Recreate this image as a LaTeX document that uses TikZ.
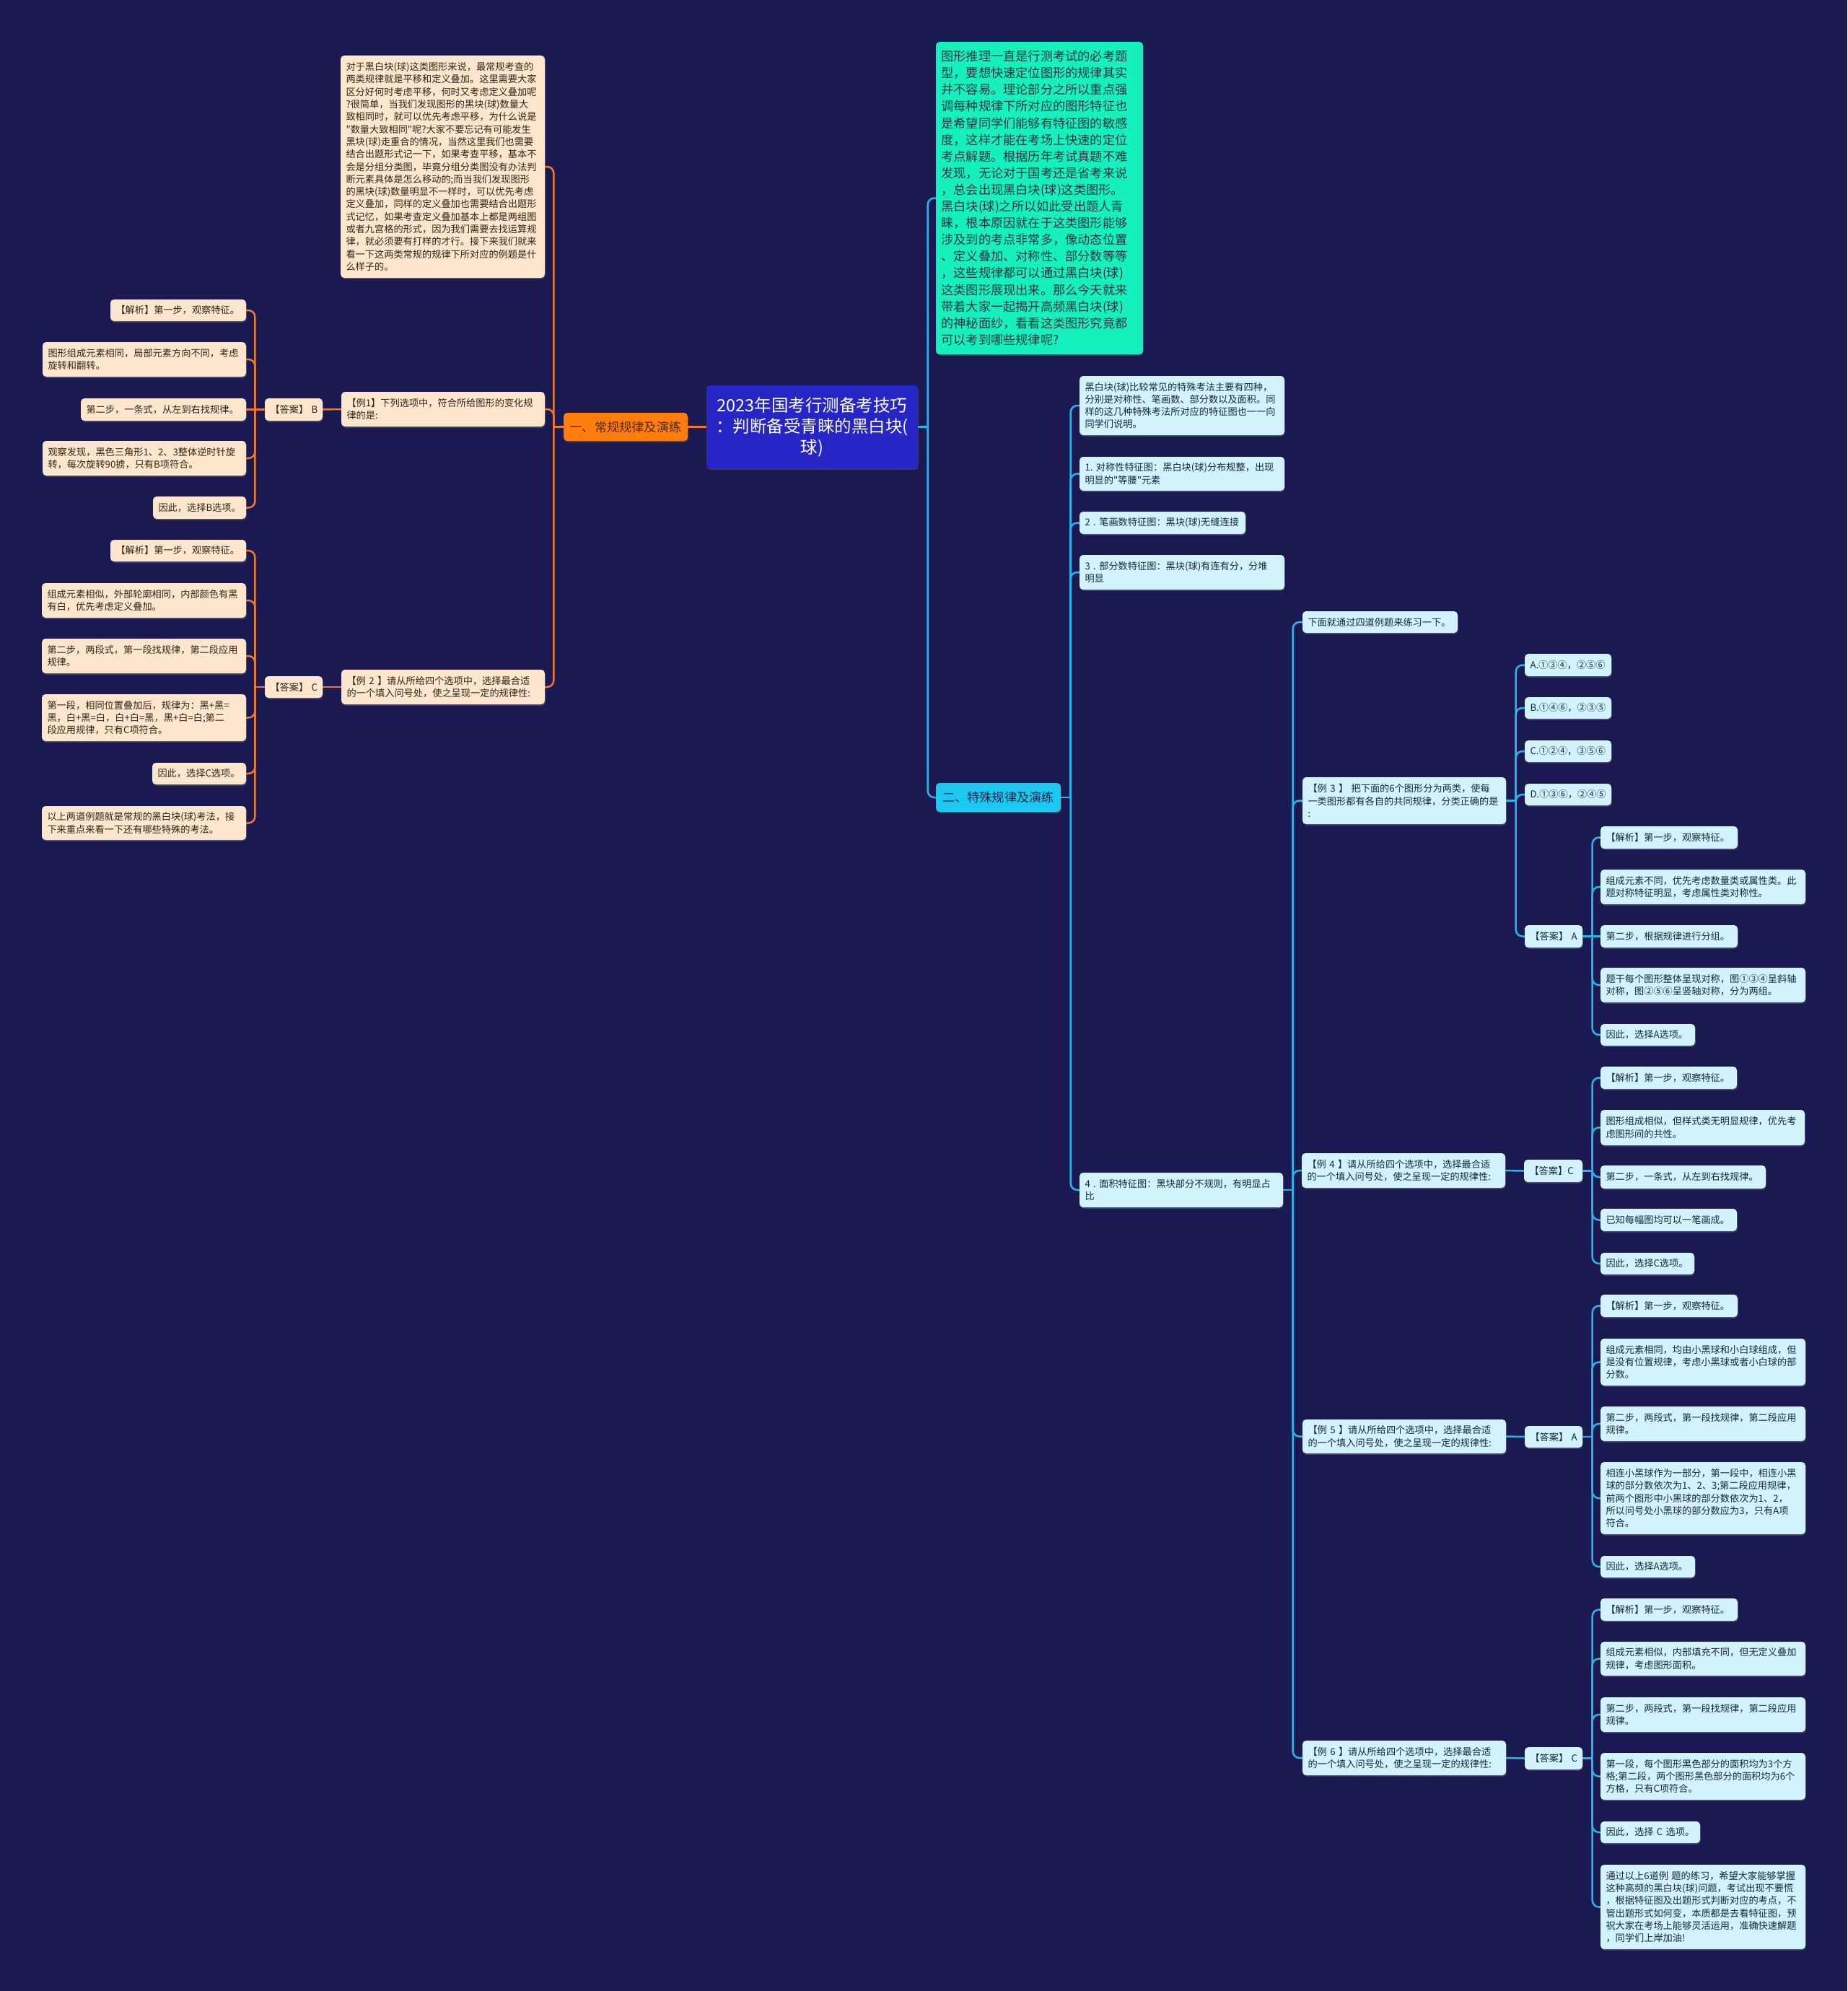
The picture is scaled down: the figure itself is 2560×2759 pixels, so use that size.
\documentclass[tikz,border=0pt]{standalone}
\usepackage{fontspec}
\setmainfont{Noto Sans CJK SC}[Ligatures=TeXOff]
\usetikzlibrary{shadows,calc}
\hfuzz=200pt \hbadness=10000 \vbadness=10000
\definecolor{bgc}{RGB}{27,25,82}
\definecolor{rootfill}{RGB}{38,38,198}
\definecolor{obr}{RGB}{255,125,12}
\definecolor{obrtext}{RGB}{85,40,8}
\definecolor{oleaffill}{RGB}{253,230,205}
\definecolor{oleaftext}{RGB}{50,36,26}
\definecolor{olinec}{RGB}{236,122,48}
\definecolor{greenfill}{RGB}{22,240,190}
\definecolor{greentext}{RGB}{26,54,66}
\definecolor{cbr}{RGB}{26,200,240}
\definecolor{cbrtext}{RGB}{16,40,80}
\definecolor{cleaffill}{RGB}{210,243,252}
\definecolor{cleaftext}{RGB}{22,40,58}
\definecolor{clinec}{RGB}{40,182,232}
\pgfdeclarelayer{bgl}\pgfdeclarelayer{edges}\pgfsetlayers{bgl,edges,main}
\tikzset{
  nd/.style={rounded corners=5pt, inner xsep=7.5pt, inner ysep=0pt, align=left,
    font=\fontsize{13.2}{17.3}\selectfont,
    drop shadow={opacity=0.35, shadow xshift=0.8pt, shadow yshift=-1.8pt}},
  oleaf/.style={nd, fill=oleaffill, text=oleaftext},
  cleaf/.style={nd, fill=cleaffill, text=cleaftext},
  rootnd/.style={nd, fill=rootfill, text=white, align=center, font=\fontsize{23.5}{29}\selectfont},
  obranch/.style={nd, fill=obr, text=obrtext, align=center, font=\fontsize{17.2}{21}\selectfont},
  cbranch/.style={nd, fill=cbr, text=cbrtext, align=center, font=\fontsize{17.2}{21}\selectfont},
  greennd/.style={nd, fill=greenfill, text=greentext, font=\fontsize{17.2}{23.1}\selectfont},
  oline/.style={draw=olinec, line width=2.5pt},
  cline/.style={draw=clinec, line width=2.5pt}
}
\newcommand\mkn[7]{%
  \pgfmathsetmacro\mkntw{#5-#3-15}%
  \pgfmathsetmacro\mknh{#6-#4}%
  \pgfmathsetmacro\mkncx{(#3+#5)/2}%
  \pgfmathsetmacro\mkncy{-(#4+#6)/2}%
  \node[#2, text width=\mkntw pt, minimum height=\mknh pt] (#1) at (\mkncx pt,\mkncy pt) {#7};%
}
\newcommand\conR[3]{%
  \draw[#1] (#2.east) -- ++(13.5pt,0) coordinate (#2s);
  \foreach \cc in {#3}{\draw[#1, rounded corners=9pt] (#2s) |- (\cc.west);}%
}
\newcommand\conL[3]{%
  \draw[#1] (#2.west) -- ++(-13.5pt,0) coordinate (#2s);
  \foreach \cc in {#3}{\draw[#1, rounded corners=9pt] (#2s) |- (\cc.east);}%
}
\begin{document}
\begin{tikzpicture}
\useasboundingbox (0,0) rectangle (2560pt,-2759pt);
\begin{pgfonlayer}{bgl}
\fill[bgc] (0,0) rectangle (2560pt,-2759pt);
\end{pgfonlayer}

% root and main branches
\mkn{root}{rootnd}{979}{534}{1272}{649}{2023年国考行测备考技巧\\：判断备受青睐的黑白块(\\球)}
\mkn{br1}{obranch}{781}{572}{953}{611}{一、常规规律及演练}
\mkn{br2}{cbranch}{1297}{1085}{1470}{1125}{二、特殊规律及演练}

% left side
\mkn{t0}{oleaf}{472}{77}{755}{385}{对于黑白块(球)这类图形来说，最常规考查的\\两类规律就是平移和定义叠加。这里需要大家\\区分好何时考虑平移，何时又考虑定义叠加呢\\?很简单，当我们发现图形的黑块(球)数量大\\致相同时，就可以优先考虑平移，为什么说是\\"数量大致相同"呢?大家不要忘记有可能发生\\黑块(球)走重合的情况，当然这里我们也需要\\结合出题形式记一下，如果考查平移，基本不\\会是分组分类图，毕竟分组分类图没有办法判\\断元素具体是怎么移动的;而当我们发现图形\\的黑块(球)数量明显不一样时，可以优先考虑\\定义叠加，同样的定义叠加也需要结合出题形\\式记忆，如果考查定义叠加基本上都是两组图\\或者九宫格的形式，因为我们需要去找运算规\\律，就必须要有打样的才行。接下来我们就来\\看一下这两类常规的规律下所对应的例题是什\\么样子的。}
\mkn{ex1}{oleaf}{473}{543}{755}{591}{【例1】下列选项中，符合所给图形的变化规\\律的是:}
\mkn{ansB}{oleaf}{367}{552}{447}{583}{【答案】~B}
\mkn{a1}{oleaf}{153}{415}{341}{445}{【解析】第一步，观察特征。}
\mkn{a2}{oleaf}{59}{474}{341}{522}{图形组成元素相同，局部元素方向不同，考虑\\旋转和翻转。}
\mkn{a3}{oleaf}{112}{552}{341}{583}{第二步，一条式，从左到右找规律。}
\mkn{a4}{oleaf}{59}{611}{341}{659}{观察发现，黑色三角形1、2、3整体逆时针旋\\转，每次旋转90掳，只有B项符合。}
\mkn{a5}{oleaf}{212}{688}{341}{719}{因此，选择B选项。}

\mkn{ex2}{oleaf}{473}{928}{755}{976}{【例~2~】请从所给四个选项中，选择最合适\\的一个填入问号处，使之呈现一定的规律性:}
\mkn{ansC}{oleaf}{367}{937}{447}{967}{【答案】~C}
\mkn{b1}{oleaf}{153}{748}{341}{778}{【解析】第一步，观察特征。}
\mkn{b2}{oleaf}{58}{808}{341}{856}{组成元素相似，外部轮廓相同，内部颜色有黑\\有白，优先考虑定义叠加。}
\mkn{b3}{oleaf}{58}{885}{341}{933}{第二步，两段式，第一段找规律，第二段应用\\规律。}
\mkn{b4}{oleaf}{58}{962}{341}{1027}{第一段，相同位置叠加后，规律为：黑+黑=\\黑，白+黑=白，白+白=黑，黑+白=白;第二\\段应用规律，只有C项符合。}
\mkn{b5}{oleaf}{211}{1057}{341}{1087}{因此，选择C选项。}
\mkn{b6}{oleaf}{58}{1117}{341}{1164}{以上两道例题就是常规的黑白块(球)考法，接\\下来重点来看一下还有哪些特殊的考法。}

% right side
\mkn{green}{greennd}{1297}{58}{1584}{491}{图形推理一直是行测考试的必考题\\型，要想快速定位图形的规律其实\\并不容易。理论部分之所以重点强\\调每种规律下所对应的图形特征也\\是希望同学们能够有特征图的敏感\\度，这样才能在考场上快速的定位\\考点解题。根据历年考试真题不难\\发现，无论对于国考还是省考来说\\，总会出现黑白块(球)这类图形。\\黑白块(球)之所以如此受出题人青\\睐，根本原因就在于这类图形能够\\涉及到的考点非常多，像动态位置\\、定义叠加、对称性、部分数等等\\，这些规律都可以通过黑白块(球)\\这类图形展现出来。那么今天就来\\带着大家一起揭开高频黑白块(球)\\的神秘面纱，看看这类图形究竟都\\可以考到哪些规律呢?}

\mkn{c1}{cleaf}{1496}{521}{1780}{603}{黑白块(球)比较常见的特殊考法主要有四种，\\分别是对称性、笔画数、部分数以及面积。同\\样的这几种特殊考法所对应的特征图也一一向\\同学们说明。}
\mkn{c2}{cleaf}{1496}{633}{1780}{680}{1.~对称性特征图：黑白块(球)分布规整，出现\\明显的"等腰"元素}
\mkn{c3}{cleaf}{1496}{709}{1726}{740}{2~.~笔画数特征图：黑块(球)无缝连接}
\mkn{c4}{cleaf}{1496}{769}{1780}{817}{3~.~部分数特征图：黑块(球)有连有分，分堆\\明显}
\mkn{c5}{cleaf}{1496}{1625}{1778}{1673}{4~.~面积特征图：黑块部分不规则，有明显占\\比}

\mkn{d0}{cleaf}{1805}{847}{2020}{877}{下面就通过四道例题来练习一下。}

\mkn{ex3}{cleaf}{1805}{1077}{2087}{1142}{【例~3~】~把下面的6个图形分为两类，使每\\一类图形都有各自的共同规律，分类正确的是\\:}
\mkn{oA}{cleaf}{2113}{906}{2233}{937}{A.①③④，②⑤⑥}
\mkn{oB}{cleaf}{2113}{966}{2233}{996}{B.①④⑥，②③⑤}
\mkn{oC}{cleaf}{2113}{1026}{2233}{1056}{C.①②④，③⑤⑥}
\mkn{oD}{cleaf}{2113}{1086}{2233}{1116}{D.①③⑥，②④⑤}
\mkn{ans3}{cleaf}{2113}{1282}{2193}{1313}{【答案】~A}
\mkn{e1}{cleaf}{2218}{1145}{2408}{1176}{【解析】第一步，观察特征。}
\mkn{e2}{cleaf}{2218}{1205}{2502}{1253}{组成元素不同，优先考虑数量类或属性类。此\\题对称特征明显，考虑属性类对称性。}
\mkn{e3}{cleaf}{2218}{1282}{2408}{1313}{第二步，根据规律进行分组。}
\mkn{e4}{cleaf}{2218}{1341}{2502}{1389}{题干每个图形整体呈现对称，图①③④呈斜轴\\对称，图②⑤⑥呈竖轴对称，分为两组。}
\mkn{e5}{cleaf}{2218}{1419}{2349}{1449}{因此，选择A选项。}

\mkn{ex4}{cleaf}{1804}{1598}{2086}{1646}{【例~4~】请从所给四个选项中，选择最合适\\的一个填入问号处，使之呈现一定的规律性:}
\mkn{ans4}{cleaf}{2112}{1607}{2193}{1638}{【答案】C}
\mkn{f1}{cleaf}{2218}{1478}{2407}{1509}{【解析】第一步，观察特征。}
\mkn{f2}{cleaf}{2218}{1538}{2501}{1587}{图形组成相似，但样式类无明显规律，优先考\\虑图形间的共性。}
\mkn{f3}{cleaf}{2218}{1615}{2447}{1647}{第二步，一条式，从左到右找规律。}
\mkn{f4}{cleaf}{2218}{1675}{2407}{1706}{已知每幅图均可以一笔画成。}
\mkn{f5}{cleaf}{2218}{1736}{2348}{1766}{因此，选择C选项。}

\mkn{ex5}{cleaf}{1805}{1967}{2087}{2014}{【例~5~】请从所给四个选项中，选择最合适\\的一个填入问号处，使之呈现一定的规律性:}
\mkn{ans5}{cleaf}{2113}{1976}{2193}{2006}{【答案】~A}
\mkn{g1}{cleaf}{2218}{1794}{2408}{1825}{【解析】第一步，观察特征。}
\mkn{g2}{cleaf}{2218}{1855}{2502}{1920}{组成元素相同，均由小黑球和小白球组成，但\\是没有位置规律，考虑小黑球或者小白球的部\\分数。}
\mkn{g3}{cleaf}{2218}{1949}{2502}{1997}{第二步，两段式，第一段找规律，第二段应用\\规律。}
\mkn{g4}{cleaf}{2218}{2026}{2502}{2126}{相连小黑球作为一部分，第一段中，相连小黑\\球的部分数依次为1、2、3;第二段应用规律，\\前两个图形中小黑球的部分数依次为1、2，\\所以问号处小黑球的部分数应为3，只有A项\\符合。}
\mkn{g5}{cleaf}{2218}{2156}{2349}{2186}{因此，选择A选项。}

\mkn{ex6}{cleaf}{1805}{2412}{2087}{2460}{【例~6~】请从所给四个选项中，选择最合适\\的一个填入问号处，使之呈现一定的规律性:}
\mkn{ans6}{cleaf}{2113}{2421}{2193}{2452}{【答案】~C}
\mkn{h1}{cleaf}{2218}{2215}{2408}{2246}{【解析】第一步，观察特征。}
\mkn{h2}{cleaf}{2218}{2275}{2502}{2322}{组成元素相似，内部填充不同，但无定义叠加\\规律，考虑图形面积。}
\mkn{h3}{cleaf}{2218}{2352}{2502}{2400}{第二步，两段式，第一段找规律，第二段应用\\规律。}
\mkn{h4}{cleaf}{2218}{2429}{2502}{2494}{第一段，每个图形黑色部分的面积均为3个方\\格;第二段，两个图形黑色部分的面积均为6个\\方格，只有C项符合。}
\mkn{h5}{cleaf}{2218}{2524}{2356}{2554}{因此，选择~C~选项。}
\mkn{h6}{cleaf}{2218}{2584}{2502}{2701}{通过以上6道例~题的练习，希望大家能够掌握\\这种高频的黑白块(球)问题，考试出现不要慌\\，根据特征图及出题形式判断对应的考点，不\\管出题形式如何变，本质都是去看特征图，预\\祝大家在考场上能够灵活运用，准确快速解题\\，同学们上岸加油!}

% connectors
\begin{pgfonlayer}{edges}
\draw[oline] (root.west) -- (br1.east);
\conL{oline}{br1}{t0,ex1,ex2}
\draw[oline] (ex1.west) -- (ansB.east);
\draw[oline] (ex2.west) -- (ansC.east);
\conL{oline}{ansB}{a1,a2,a4,a5}
\draw[oline] (ansB.west) -- (a3.east);
\conL{oline}{ansC}{b1,b2,b3,b4,b5,b6}

\conR{cline}{root}{green,br2}
\conR{cline}{br2}{c1,c2,c3,c4,c5}
\conR{cline}{c5}{d0,ex3,ex4,ex5,ex6}
\conR{cline}{ex3}{oA,oB,oC,oD,ans3}
\conR{cline}{ans3}{e1,e2,e4,e5}
\draw[cline] (ans3.east) -- (e3.west);
\draw[cline] (ex4.east) -- (ans4.west);
\conR{cline}{ans4}{f1,f2,f3,f4,f5}
\draw[cline] (ex5.east) -- (ans5.west);
\conR{cline}{ans5}{g1,g2,g3,g4,g5}
\draw[cline] (ex6.east) -- (ans6.west);
\conR{cline}{ans6}{h1,h2,h3,h4,h5,h6}
\end{pgfonlayer}
\end{tikzpicture}
\end{document}
